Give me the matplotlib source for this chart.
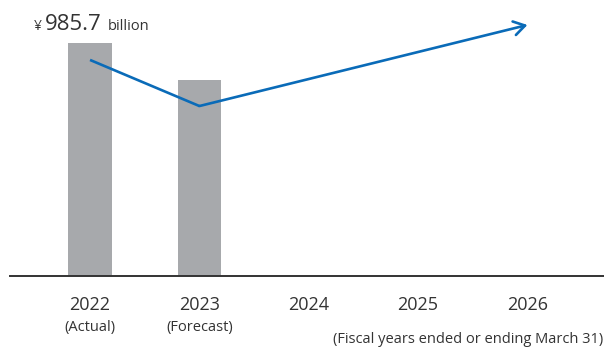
import matplotlib

matplotlib.use("Agg")
import matplotlib.pyplot as plt

plt.rcParams["font.family"] = ["Open Sans", "DejaVu Sans"]

YEARS = ["2022", "2023", "2024", "2025", "2026"]
SUBLABELS = ["(Actual)", "(Forecast)", "", "", ""]
BAR_VALUES = [985.7, 830.0]
LINE_VALUES = [914.0, 719.0, None, None, 1062.0]
LABEL_VALUE = "985.7"
NOTE = "(Fiscal years ended or ending March 31)"

BAR_COLOR = "#a7a9ac"
LINE_COLOR = "#0a6bb8"
TEXT_COLOR = "#333333"


def main():
    fig = plt.figure(figsize=(6.04, 3.48), dpi=100)
    ax = fig.add_axes([10 / 604, 72 / 348, 594 / 604, 276 / 348])

    x = list(range(len(YEARS)))
    ax.bar(x[:len(BAR_VALUES)], BAR_VALUES, width=0.40, color=BAR_COLOR, zorder=2)

    # line segment then arrow to the last point
    ax.plot(x[:2], LINE_VALUES[:2], color=LINE_COLOR, lw=1.9,
            solid_capstyle="butt", zorder=3)
    ax.annotate("", xy=(x[4], LINE_VALUES[4]), xytext=(x[1], LINE_VALUES[1]),
                arrowprops=dict(arrowstyle="->,head_length=0.8,head_width=0.5",
                                color=LINE_COLOR, lw=1.9, shrinkA=0, shrinkB=0,
                                mutation_scale=10), zorder=3)

    ax.set_xlim(-0.732, 4.70)
    ax.set_ylim(0, 1167.6)

    for side in ["top", "right", "left"]:
        ax.spines[side].set_visible(False)
    ax.spines["bottom"].set_color("#333333")
    ax.spines["bottom"].set_linewidth(1.4)
    ax.set_yticks([])
    ax.set_xticks(x)
    ax.set_xticklabels(YEARS, fontsize=13, color=TEXT_COLOR)
    ax.tick_params(axis="x", length=0, pad=14.5)

    for xi, sub in zip(x, SUBLABELS):
        if sub:
            ax.annotate(sub, xy=(xi, 0), xycoords=("data", "axes fraction"),
                        xytext=(0, -31.5), textcoords="offset points",
                        ha="center", va="top", fontsize=10.5, color=TEXT_COLOR)

    fig.text(0.998, 0.003, NOTE, ha="right", va="bottom", fontsize=10.5,
             color=TEXT_COLOR)

    # value label above the first bar
    top = BAR_VALUES[0]
    ax.annotate("¥", xy=(0, top), xytext=(-34.5, 9), textcoords="offset points",
                ha="right", va="baseline", fontsize=10, color=TEXT_COLOR)
    ax.annotate(LABEL_VALUE, xy=(0, top), xytext=(-12, 9), textcoords="offset points",
                ha="center", va="baseline", fontsize=16, color=TEXT_COLOR)
    ax.annotate("billion", xy=(0, top), xytext=(12.5, 9), textcoords="offset points",
                ha="left", va="baseline", fontsize=10.5, color=TEXT_COLOR)

    fig.savefig("out.png", dpi=100)
    plt.close(fig)


if __name__ == "__main__":
    main()
